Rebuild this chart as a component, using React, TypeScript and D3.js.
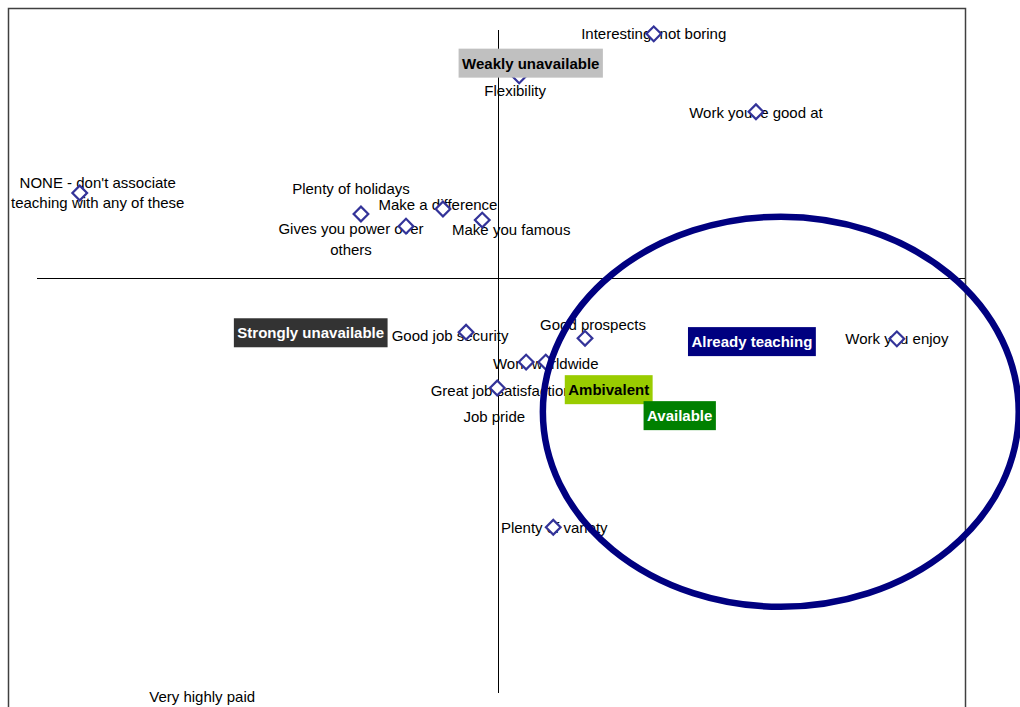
import React, { useEffect, useRef } from "react";
import * as d3 from "d3";

// attribute points (correspondence map coordinates)
const attributes = [
  "Interesting, not boring",
  "Flexibility",
  "Work you're good at",
  "NONE - don't associate\nteaching with any of these",
  "Plenty of holidays",
  "Make a difference",
  "Gives you power over\nothers",
  "Make you famous",
  "Good job security",
  "Good prospects",
  "Work worldwide",
  "Great job satisfaction",
  "Job pride",
  "Work you enjoy",
  "Plenty of variety",
  "Very highly paid",
];
const dim1 = [0.268, 0.035, 0.445, -0.726, -0.239, -0.097, -0.161, -0.029, -0.057, 0.149, 0.081, 0.047, -0.003, 0.689, 0.094, -0.514];
const dim2 = [0.443, 0.367, 0.302, 0.155, 0.117, 0.126, 0.095, 0.106, -0.097, -0.108, -0.151, -0.151, -0.198, -0.109, -0.45, -0.799];

// segment points
const segments = ["Weakly unavailable", "Strongly unavailable", "Already teaching", "Ambivalent", "Available"];
const segDim1 = [0.055, -0.326, 0.438, 0.19, 0.313];
const segDim2 = [0.39, -0.098, -0.114, -0.201, -0.248];

// highlighted cluster (centre and radii in map units)
const cluster = { cx: 0.488, cy: -0.241, rx: 0.412, ry: 0.353 };

// label placement, pixel nudges from each point
const labelNudge: [number, number][] = [
  [0, 0], [-4, 15], [0, 1], [18, -10], [-10, -25], [-5, -4], [-55, 3], [29, 10],
  [-16, 4], [8, -13], [0, 2], [-25, 29], [-3, 29], [0, 0], [1, 1], [0, -23],
];
const segFill = ["#c0c0c0", "#333333", "#000080", "#99cc00", "#008000"];
const segText = ["#000000", "#ffffff", "#ffffff", "#000000", "#ffffff"];

const W = 1020, H = 707;
const FONT = "'Liberation Sans', Arial, sans-serif";

export default function App() {
  const ref = useRef<SVGSVGElement>(null);

  useEffect(() => {
    const svg = d3.select(ref.current);
    svg.selectAll("*").remove();

    const x = d3.scaleLinear().domain([-0.8, 0.807]).range([37, 965]);
    const y = d3.scaleLinear().domain([-0.75, 0.45]).range([693, 30]);

    // frame
    svg.append("rect")
      .attr("x", 8.5).attr("y", 8.5).attr("width", 957).attr("height", 720)
      .attr("fill", "#fff").attr("stroke", "#404040").attr("stroke-width", 1.5);

    // axes through origin
    svg.append("line")
      .attr("x1", x(-0.8)).attr("x2", x(0.807))
      .attr("y1", Math.round(y(0)) - 0.5).attr("y2", Math.round(y(0)) - 0.5)
      .attr("stroke", "#000").attr("stroke-width", 1);
    svg.append("line")
      .attr("x1", Math.round(x(0)) - 0.5).attr("x2", Math.round(x(0)) - 0.5)
      .attr("y1", y(0.45)).attr("y2", y(-0.75))
      .attr("stroke", "#000").attr("stroke-width", 1);

    const pts = attributes.map((name, i) => ({
      name, px: x(dim1[i]), py: y(dim2[i]), nudge: labelNudge[i],
    }));

    // point labels
    const lab = svg.append("g")
      .attr("font-family", FONT).attr("font-size", 15).attr("fill", "#000")
      .attr("text-anchor", "middle");
    pts.forEach((p) => {
      const lines = p.name.split("\n");
      lines.forEach((ln, j) => {
        lab.append("text")
          .attr("x", p.px + p.nudge[0])
          .attr("y", p.py + p.nudge[1] + 5 + j * 20.5)
          .text(ln);
      });
    });

    // diamond markers
    const diamond = d3.symbol().type(d3.symbolSquare).size(108);
    svg.append("g").selectAll("path").data(pts).join("path")
      .attr("d", diamond)
      .attr("transform", (d) => `translate(${d.px},${d.py}) rotate(45)`)
      .attr("fill", "#fff").attr("stroke", "#333399").attr("stroke-width", 2.2);

    // cluster ellipse
    svg.append("ellipse")
      .attr("cx", x(cluster.cx)).attr("cy", y(cluster.cy))
      .attr("rx", x(cluster.rx) - x(0)).attr("ry", y(0) - y(cluster.ry))
      .attr("fill", "none").attr("stroke", "#000080").attr("stroke-width", 6.5);

    // segment boxes
    segments.forEach((s, i) => {
      const g = svg.append("g").attr("transform", `translate(${x(segDim1[i])},${y(segDim2[i])})`);
      const rect = g.append("rect").attr("fill", segFill[i]);
      const t = g.append("text")
        .attr("font-family", FONT).attr("font-size", 15).attr("font-weight", "bold")
        .attr("text-anchor", "middle").attr("y", 5.5).attr("fill", segText[i])
        .text(s);
      const w = (t.node() as SVGTextElement).getComputedTextLength() + 7;
      rect.attr("x", -w / 2).attr("y", -14.5).attr("width", w).attr("height", 29);
    });
  }, []);

  return (
    <div style={{ position: "fixed", left: 0, top: 0, width: W, height: H, overflow: "hidden", background: "#fff" }}>
      <svg ref={ref} width={W} height={H} style={{ display: "block" }} />
    </div>
  );
}
